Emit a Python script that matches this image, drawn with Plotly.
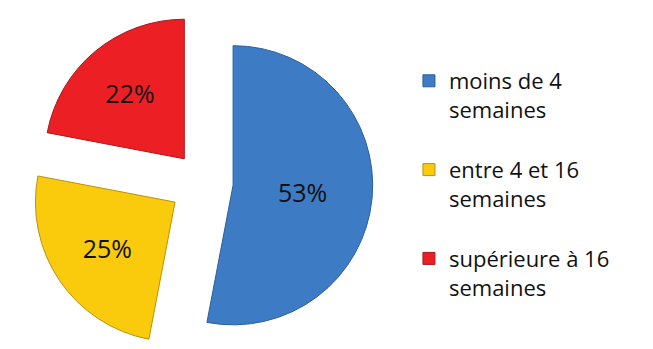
import plotly.graph_objects as go

labels = ["moins de 4<br>semaines<br>&nbsp;", "entre 4 et 16<br>semaines<br>&nbsp;", "supérieure à 16<br>semaines"]
values = [53, 25, 22]
colors = ["#3D7BC4", "#FACB0C", "#EC2024"]
edge_colors = ["#2B5E9C", "#B8930A", "#A8181B"]
pulls = [0.21, 0.25, 0.22]

fig = go.Figure(go.Pie(
    labels=labels,
    values=values,
    sort=False,
    direction="clockwise",
    rotation=0,
    pull=pulls,
    marker=dict(colors=colors, line=dict(color=edge_colors, width=1)),
    textinfo="percent",
    texttemplate="%{percent:.0%}",
    textposition="inside",
    insidetextorientation="horizontal",
    textfont=dict(family="Open Sans", size=25, color="#111111"),
    domain=dict(x=[0, 0.6], y=[0, 1]),
    hoverinfo="skip",
))

fig.update_layout(
    width=653, height=349,
    margin=dict(l=0, r=0, t=0, b=0),
    paper_bgcolor="white",
    plot_bgcolor="white",
    showlegend=True,
    legend=dict(
        x=0.614, y=0.851, xanchor="left", yanchor="top",
        valign="top",
        font=dict(family="Open Sans", size=22, color="#111111"),
        bgcolor="rgba(0,0,0,0)",
    ),
)

fig.write_html("out.html")
